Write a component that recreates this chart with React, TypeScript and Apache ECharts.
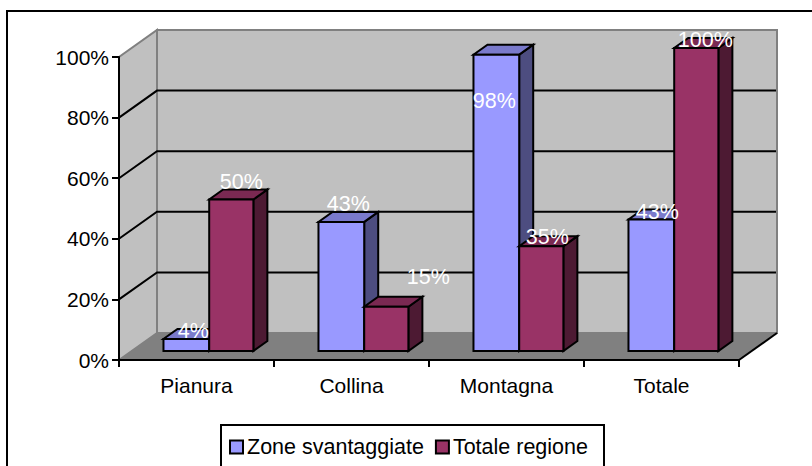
import React, { useEffect, useRef } from "react";
import * as echarts from "echarts";

const categories = ["Pianura", "Collina", "Montagna", "Totale"];
const zoneSvantaggiate = [4, 42.6, 97.8, 43.4];
const totaleRegione = [50, 14.6, 34.6, 100];
const yTicks = [0, 20, 40, 60, 80, 100];

const seriesNames = ["Zone svantaggiate", "Totale regione"];
const FONT = "Liberation Sans";

// palettes: front, top, side
const bluePalette = ["#9999FF", "#7A7ACC", "#4D4D80"];
const redPalette = ["#993366", "#7A2952", "#4D1A33"];

// 3D projection, in pixels
const WALL_DX = 38;
const WALL_DY = -27;
const BAR_SHIFT_X = 12.7;
const BAR_SHIFT_Y = -9;
const BAR_DEPTH_X = 14;
const BAR_DEPTH_Y = -10;
const BLUE_RATIO = 0.295;
const RED_RATIO = 0.285;

// label nudges relative to the top of each bar's front face
const blueLabelNudge = [[7, -9], [7, -19], [-2, 45], [6, -8]];
const redLabelNudge = [[10, -19], [42, -31], [6, -10], [9, -9]];

function wallsRenderItem(_params: any, api: any) {
  const [x0, y0] = api.coord([0, 0]);
  const catW = api.size([1, 0])[0];
  const left = x0 - catW / 2;
  const right = left + catW * categories.length;
  const top = api.coord([0, 100])[1];
  const children: any[] = [];
  const gray = "#808080";
  const wallFill = "#C0C0C0";
  // left wall
  children.push({
    type: "polygon",
    shape: { points: [[left, y0], [left, top], [left + WALL_DX, top + WALL_DY], [left + WALL_DX, y0 + WALL_DY]] },
    style: { fill: wallFill, stroke: gray, lineWidth: 2 },
  });
  // back wall
  children.push({
    type: "polygon",
    shape: { points: [[left + WALL_DX, y0 + WALL_DY], [left + WALL_DX, top + WALL_DY], [right + WALL_DX, top + WALL_DY], [right + WALL_DX, y0 + WALL_DY]] },
    style: { fill: wallFill, stroke: gray, lineWidth: 2 },
  });
  // grid lines
  yTicks.forEach((t) => {
    if (t === 0 || t === 100) return;
    const y = api.coord([0, t])[1];
    children.push({
      type: "polyline",
      shape: { points: [[left, y], [left + WALL_DX, y + WALL_DY], [right + WALL_DX - 1, y + WALL_DY]] },
      style: { fill: "none", stroke: "#000", lineWidth: 2 },
    });
  });
  // floor
  children.push({
    type: "polygon",
    shape: { points: [[left, y0], [right, y0], [right + WALL_DX, y0 + WALL_DY], [left + WALL_DX, y0 + WALL_DY]] },
    style: { fill: gray },
  });
  children.push({
    type: "line",
    shape: { x1: right, y1: y0, x2: right + WALL_DX, y2: y0 + WALL_DY },
    style: { stroke: "#000", lineWidth: 2 },
  });
  return { type: "group", children };
}

function barRenderItem(palette: string[], side: number) {
  return (_params: any, api: any) => {
    const cat = api.value(0);
    const val = api.value(1);
    const w = api.size([1, 0])[0] * (side < 0 ? BLUE_RATIO : RED_RATIO);
    const [cx, y0raw] = api.coord([cat, 0]);
    const yTopRaw = api.coord([cat, val])[1];
    const x1 = cx + BAR_SHIFT_X + (side < 0 ? -w : 0);
    const x2 = x1 + w;
    const yb = y0raw + BAR_SHIFT_Y;
    const yt = yTopRaw + BAR_SHIFT_Y;
    const style = (fill: string) => ({ fill, stroke: "#000", lineWidth: 2 });
    return {
      type: "group",
      children: [
        {
          type: "polygon",
          shape: { points: [[x2, yb], [x2, yt], [x2 + BAR_DEPTH_X, yt + BAR_DEPTH_Y], [x2 + BAR_DEPTH_X, yb + BAR_DEPTH_Y]] },
          style: style(palette[2]),
        },
        {
          type: "polygon",
          shape: { points: [[x1, yt], [x2, yt], [x2 + BAR_DEPTH_X, yt + BAR_DEPTH_Y], [x1 + BAR_DEPTH_X, yt + BAR_DEPTH_Y]] },
          style: style(palette[1]),
        },
        {
          type: "polygon",
          shape: { points: [[x1, yb], [x1, yt], [x2, yt], [x2, yb]] },
          style: style(palette[0]),
        },
      ],
    };
  };
}

function labelRenderItem(nudges: number[][], side: number) {
  return (_params: any, api: any) => {
    const cat = api.value(0);
    const val = api.value(1);
    const w = api.size([1, 0])[0] * (side < 0 ? BLUE_RATIO : RED_RATIO);
    const [cx, yTop] = api.coord([cat, val]);
    const n = nudges[cat];
    return {
      type: "text",
      x: cx + BAR_SHIFT_X + (side * w) / 2 + n[0],
      y: yTop + BAR_SHIFT_Y + n[1] + 1,
      style: {
        text: Math.round(val) + "%",
        fill: "#fff",
        font: `21.5px "${FONT}"`,
        align: "center",
        verticalAlign: "middle",
      },
    };
  };
}

export default function App() {
  const ref = useRef<HTMLDivElement>(null);
  useEffect(() => {
    const chart = echarts.init(ref.current!, undefined, { renderer: "svg" });
    const blueData = zoneSvantaggiate.map((v, i) => [i, v]);
    const redData = totaleRegione.map((v, i) => [i, v]);
    chart.setOption({
      animation: false,
      textStyle: { fontFamily: FONT },
      grid: { left: 119, top: 57, width: 620, height: 303, containLabel: false },
      xAxis: {
        type: "category",
        data: categories,
        z: 10,
        axisLine: { lineStyle: { color: "#000", width: 2 } },
        axisTick: { show: true, length: 7, alignWithLabel: false, lineStyle: { color: "#000", width: 2 } },
        axisLabel: { color: "#000", fontSize: 21, fontFamily: FONT, margin: 15 },
        splitLine: { show: false },
      },
      yAxis: {
        type: "value",
        min: 0,
        max: 100,
        interval: 20,
        z: 10,
        axisLine: { show: true, lineStyle: { color: "#000", width: 2 } },
        axisTick: { show: true, length: 7, lineStyle: { color: "#000", width: 2 } },
        axisLabel: { color: "#000", fontSize: 21, fontFamily: FONT, margin: 10, formatter: "{value}%" },
        splitLine: { show: false },
      },
      legend: {
        left: 221,
        top: 434,
        padding: [2, 0, 2, 8],
        itemWidth: 13,
        itemHeight: 13,
        itemGap: 11,
        textStyle: { color: "#000", fontSize: 21.5, fontFamily: FONT, padding: [0, 0, 0, -1] },
        data: [
          { name: seriesNames[0], icon: "rect", itemStyle: { color: bluePalette[0], borderColor: "#000", borderWidth: 2 } },
          { name: seriesNames[1], icon: "rect", itemStyle: { color: redPalette[0], borderColor: "#000", borderWidth: 2 } },
        ],
      },
      graphic: [
        { type: "rect", silent: true, shape: { x: 7, y: 11, width: 900, height: 600 }, style: { fill: "none", stroke: "#000", lineWidth: 2 } },
        { type: "rect", silent: true, shape: { x: 221, y: 425, width: 383, height: 100 }, style: { fill: "none", stroke: "#000", lineWidth: 2 } },
      ],
      series: [
        { type: "custom", name: "walls", z: 1, data: [[0, 0]], renderItem: wallsRenderItem, encode: { x: 0, y: 1 }, silent: true },
        { type: "custom", name: seriesNames[0], z: 2, data: blueData, renderItem: barRenderItem(bluePalette, -1), encode: { x: 0, y: 1 }, itemStyle: { color: bluePalette[0] } },
        { type: "custom", name: seriesNames[1], z: 3, data: redData, renderItem: barRenderItem(redPalette, 1), encode: { x: 0, y: 1 }, itemStyle: { color: redPalette[0] } },
        { type: "custom", name: "blueLabels", z: 6, data: blueData, renderItem: labelRenderItem(blueLabelNudge, -1), encode: { x: 0, y: 1 }, silent: true },
        { type: "custom", name: "redLabels", z: 6, data: redData, renderItem: labelRenderItem(redLabelNudge, 1), encode: { x: 0, y: 1 }, silent: true },
      ],
    });
    return () => chart.dispose();
  }, []);
  return (
    <div
      ref={ref}
      style={{ position: "fixed", left: 0, top: 0, width: 812, height: 466, overflow: "hidden", background: "#fff" }}
    />
  );
}
